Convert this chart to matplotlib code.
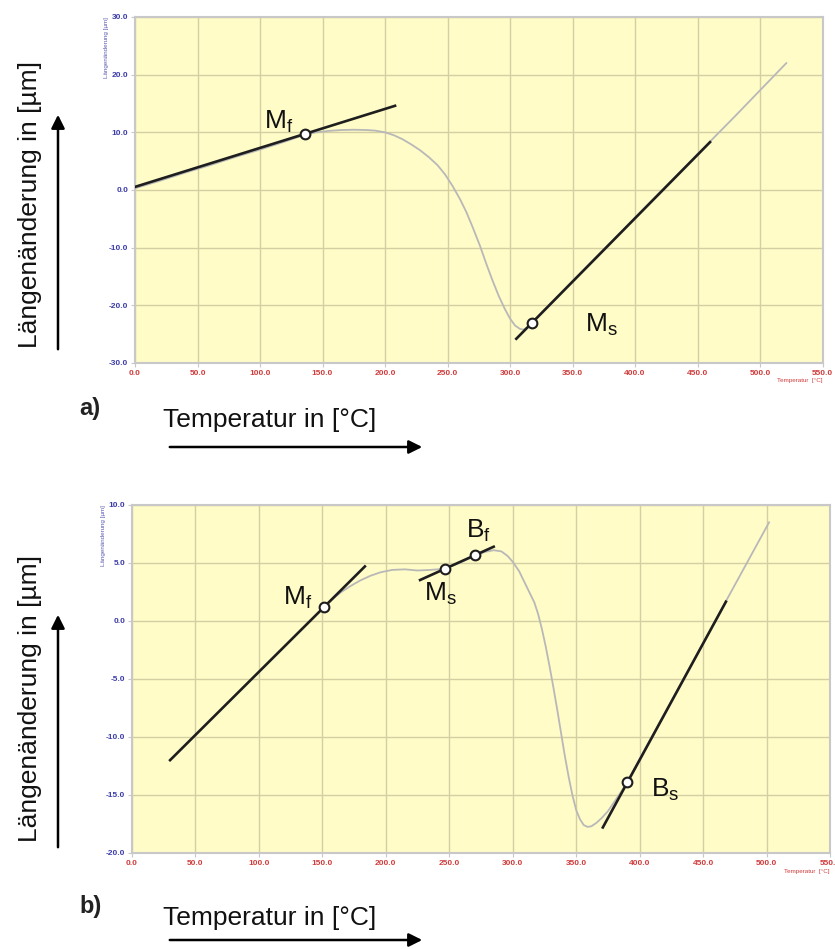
import matplotlib
matplotlib.use("Agg")
import matplotlib.pyplot as plt
from matplotlib.ticker import MultipleLocator, FormatStrFormatter

plt.rcParams['font.family'] = ['Liberation Sans', 'DejaVu Sans']
plt.rcParams['mathtext.fontset'] = 'custom'
plt.rcParams['mathtext.rm'] = 'Liberation Sans'

# Dilatometerkurve a) - Temperatur [°C] / Längenänderung [µm]
temp_a = [0, 20, 40, 60, 80, 100, 120, 136, 145, 155, 165, 175, 185, 192, 200,
          207, 214, 221, 228, 235, 242, 248, 254, 260, 265, 270, 276, 281, 286,
          291, 296, 300, 304, 308, 311, 314, 317, 330, 360, 400, 440, 480, 521]
dl_a = [0.3, 1.6, 3.0, 4.3, 5.7, 7.0, 8.4, 9.6, 10.0, 10.25, 10.4, 10.45, 10.4, 10.3, 10.0,
        9.5, 8.8, 7.9, 6.9, 5.7, 4.3, 2.7, 0.7, -1.6, -3.8, -6.4, -9.7, -12.8, -15.7,
        -18.4, -20.7, -22.3, -23.5, -24.1, -24.2, -23.8, -23.1, -20.2, -13.6, -4.8, 4.0, 12.8, 22.0]

# Tangenten a): (x0, y0, x1, y1)
tang_a = [(0, 0.54, 208, 14.6), (305, -25.8, 460, 8.3)]
# Umwandlungspunkte a)
pkt_a_t = [136, 317.3]
pkt_a_dl = [9.76, -23.1]
lbl_a = [r'$\mathregular{M_f}$', r'$\mathregular{M_s}$']
lbl_a_pos = [(103, 11.8), (360, -23.4)]

# Dilatometerkurve b)
temp_b = [151, 158, 165, 172, 180, 188, 196, 205, 215, 225, 235, 246.5, 258, 270, 278,
          285, 291, 296, 300, 305, 309, 313, 317, 320, 323, 326, 329, 332, 335, 338,
          341, 344, 347, 350, 353, 356, 359, 362, 366, 370, 375, 380, 385, 390,
          420, 450, 480, 502]
dl_b = [1.2, 1.9, 2.5, 3.0, 3.5, 3.9, 4.2, 4.4, 4.45, 4.35, 4.4, 4.5, 5.0, 5.6, 5.95,
        6.1, 6.0, 5.6, 5.1, 4.3, 3.4, 2.5, 1.6, 0.6, -0.7, -2.2, -3.9, -5.7, -7.6, -9.6,
        -11.6, -13.4, -15.0, -16.3, -17.1, -17.6, -17.75, -17.7, -17.4, -17.0, -16.4, -15.6, -14.8, -13.9,
        -7.9, -1.9, 4.1, 8.5]

tang_b = [(30, -12.0, 183.5, 4.7), (227, 3.53, 285, 6.4), (371, -17.8, 468, 1.66)]
pkt_b_t = [151.4, 246.5, 270, 390]
pkt_b_dl = [1.23, 4.5, 5.66, -13.9]
lbl_b = [r'$\mathregular{M_f}$', r'$\mathregular{M_s}$', r'$\mathregular{B_f}$', r'$\mathregular{B_s}$']
lbl_b_pos = [(119, 2.0), (230, 2.3), (263, 7.8), (409, -14.6)]

fig = plt.figure(figsize=(8.35, 9.49), dpi=100)
fig.patch.set_facecolor('white')

ax1 = fig.add_axes([0.1617, 0.6175, 0.8234, 0.3646])
ax2 = fig.add_axes([0.1581, 0.1012, 0.8359, 0.3667])


def diagramm(ax, t, dl, tang, pt, pdl, lbl, lblpos, ymin, ymax, ystep):
    ax.set_facecolor('#fffcc8')
    ax.set_xlim(0, 550)
    ax.set_ylim(ymin, ymax)
    ax.xaxis.set_major_locator(MultipleLocator(50))
    ax.yaxis.set_major_locator(MultipleLocator(ystep))
    ax.xaxis.set_major_formatter(FormatStrFormatter('%.1f'))
    ax.yaxis.set_major_formatter(FormatStrFormatter('%.1f'))
    ax.grid(True, color='#d3cfa2', lw=1.0)
    ax.set_axisbelow(True)
    for s in ax.spines.values():
        s.set_color('#c8c8c8')
        s.set_linewidth(1.5)
    ax.tick_params(axis='x', colors='#c8c8c8', labelcolor='#d03c3c', labelsize=6, length=3, pad=2)
    ax.tick_params(axis='y', colors='#c8c8c8', labelcolor='#3c3ca8', labelsize=6, length=3, pad=2)
    for l in ax.get_xticklabels() + ax.get_yticklabels():
        l.set_fontweight('bold')

    ax.plot(t, dl, color='#b8b8b8', lw=1.3, zorder=3, solid_joinstyle='round')
    for x0, y0, x1, y1 in tang:
        ax.plot([x0, x1], [y0, y1], color='#1e1e1e', lw=1.9, zorder=4)
    ax.plot(pt, pdl, 'o', ms=7, mfc='white', mec='#1e1e1e', mew=1.5, zorder=5)
    for s, (x, y) in zip(lbl, lblpos):
        ax.text(x, y, s, fontsize=19, color='#111111', ha='left', va='center', zorder=6)

    ax.text(-0.041, 1.0, 'Längenänderung [µm]', transform=ax.transAxes, rotation=90,
            ha='center', va='top', fontsize=4.5, color='#5a5ab4')
    ax.text(1.0, -0.052, 'Temperatur  [°C]', transform=ax.transAxes,
            ha='right', va='center', fontsize=4.5, color='#d03c3c')


diagramm(ax1, temp_a, dl_a, tang_a, pkt_a_t, pkt_a_dl, lbl_a, lbl_a_pos, -30, 30, 10)
diagramm(ax2, temp_b, dl_b, tang_b, pkt_b_t, pkt_b_dl, lbl_b, lbl_b_pos, -20, 10, 5)

# Beschriftungen und Pfeile ausserhalb der Diagramme
W, H = 835.0, 949.0
for yc, y_lo, y_hi, y_lab, y_arr, tag in [(205, 352, 112, 420, 447, 'a)'),
                                           (698, 850, 612, 918, 940, 'b)')]:
    fig.text(30 / W, 1 - yc / H, 'Längenänderung in [µm]', rotation=90,
             ha='center', va='center', fontsize=19, color='#111111')
    fig.add_artist(matplotlib.patches.FancyArrowPatch(
        (58 / W, 1 - y_lo / H), (58 / W, 1 - y_hi / H), transform=fig.transFigure,
        arrowstyle='-|>,head_length=8,head_width=4', color='black', lw=1.8))
    fig.text(163 / W, 1 - y_lab / H, 'Temperatur in [°C]', ha='left', va='center',
             fontsize=19, color='#111111')
    fig.add_artist(matplotlib.patches.FancyArrowPatch(
        (167 / W, 1 - y_arr / H), (425 / W, 1 - y_arr / H), transform=fig.transFigure,
        arrowstyle='-|>,head_length=8,head_width=4', color='black', lw=1.8))
    fig.text(79 / W, 1 - (y_lab - 12) / H, tag, ha='left', va='center',
             fontsize=17, fontweight='bold', color='#222222')

fig.savefig('out.png', dpi=100)
